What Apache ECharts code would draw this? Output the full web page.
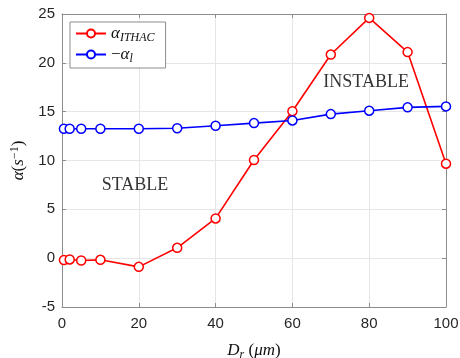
<!DOCTYPE html>
<html><head><meta charset="utf-8">
<script src="https://cdn.jsdelivr.net/npm/echarts@6/dist/echarts.min.js"></script>
<style>html,body{margin:0;padding:0;background:#fff}#c{width:460px;height:358px}</style>
</head><body><div id="c"></div>
<script>
const diameters = [0.5, 2, 5, 10, 20, 30, 40, 50, 60, 70, 80, 90, 100];
const alphaITHAC = [-0.2, -0.13, -0.24, -0.17, -0.89, 1.06, 4.07, 10.05, 15.05, 20.85, 24.6, 21.1, 9.67];
const alphaL = [13.25, 13.25, 13.25, 13.25, 13.25, 13.3, 13.56, 13.83, 14.1, 14.75, 15.1, 15.44, 15.54];
const xTicks = [0, 20, 40, 60, 80, 100];
const yTicks = [-5, 0, 5, 10, 15, 20, 25];
const annotationText = ['STABLE', 'INSTABLE'];
const annotationX = [19, 79.2];
const annotationY = [7.5, 18.0];

const chart = echarts.init(document.getElementById('c'));
const tickFont = { fontFamily: 'Liberation Sans', fontSize: 15, color: '#262626' };
const serif = 'Liberation Serif';
const mathRich = {
  a: { fontFamily: serif, fontStyle: 'italic', fontSize: 17, color: '#111' },
  s: { fontFamily: serif, fontStyle: 'italic', fontSize: 12, color: '#111', padding: [9, 0, 0, 0] },
  m: { fontFamily: serif, fontSize: 17, color: '#111' }
};
function mk(name, color, data) {
  return {
    name, type: 'line', data: diameters.map((d, i) => [d, data[i]]),
    symbol: 'circle', symbolSize: 9, showSymbol: true,
    itemStyle: { color: '#fff', borderColor: color, borderWidth: 1.5 },
    lineStyle: { color, width: 1.6 }, z: 3, animation: false
  };
}
const s1 = mk('ithac', '#ff0000', alphaITHAC);
const s2 = mk('l', '#0000ff', alphaL);
const s3 = {
  name: 'ann', type: 'scatter', symbol: 'circle', symbolSize: 1, silent: true,
  itemStyle: { color: 'rgba(0,0,0,0)' },
  data: annotationText.map((t, i) => ({ value: [annotationX[i], annotationY[i]], name: t })),
  label: { show: true, position: 'inside', formatter: p => p.name, fontFamily: serif, fontSize: 18, color: '#000' },
  emphasis: { disabled: true },
  z: 2
};
const axisColor = '#8c8c8c';
const tick = { show: true, inside: true, length: 4, lineStyle: { color: axisColor } };
chart.setOption({
  animation: false,
  grid: { left: 62, right: 14, top: 14, bottom: 51, containLabel: false, outerBoundsMode: 'none' },
  xAxis: [
    { type: 'value', min: 0, max: 100, interval: 20,
      axisLine: { show: true, onZero: false, lineStyle: { color: axisColor } },
      axisTick: tick,
      axisLabel: Object.assign({ margin: 9 }, tickFont),
      splitLine: { show: true, lineStyle: { color: '#e6e6e6' } },
      name: '{a|D}{s|r}{m| (}{a|μm}{m|)}', nameLocation: 'middle', nameGap: 33,
      nameTextStyle: { rich: mathRich } },
    { type: 'value', min: 0, max: 100, interval: 20, position: 'top',
      axisLine: { show: true, onZero: false, lineStyle: { color: axisColor } },
      axisTick: tick, axisLabel: { show: false }, splitLine: { show: false } }
  ],
  yAxis: [
    { type: 'value', min: -5, max: 25, interval: 5,
      axisLine: { show: true, onZero: false, lineStyle: { color: axisColor } },
      axisTick: tick,
      axisLabel: Object.assign({ margin: 7 }, tickFont),
      splitLine: { show: true, lineStyle: { color: '#e6e6e6' } },
      name: '{a|α}{m|(}{a|s}{p|−1}{m|)}', nameLocation: 'middle', nameGap: 30, nameRotate: 90,
      nameTextStyle: { rich: Object.assign({}, mathRich, { p: { fontFamily: serif, fontSize: 12, color: '#111', padding: [0, 0, 8, 0] } }) } },
    { type: 'value', min: -5, max: 25, interval: 5, position: 'right',
      axisLine: { show: true, onZero: false, lineStyle: { color: axisColor } },
      axisTick: tick, axisLabel: { show: false }, splitLine: { show: false } }
  ],
  legend: {
    left: 70, top: 22, orient: 'vertical', itemWidth: 30, itemHeight: 10, itemGap: 2,
    backgroundColor: '#fff', borderColor: axisColor, borderWidth: 1, padding: [3, 11, 3, 5],
    data: ['ithac', 'l'],
    formatter: n => n === 'ithac' ? '{a|α}{s|ITHAC}' : '{m|−}{a|α}{s|l}',
    textStyle: { rich: mathRich }
  },
  series: [s1, s2, s3]
});
</script></body></html>
